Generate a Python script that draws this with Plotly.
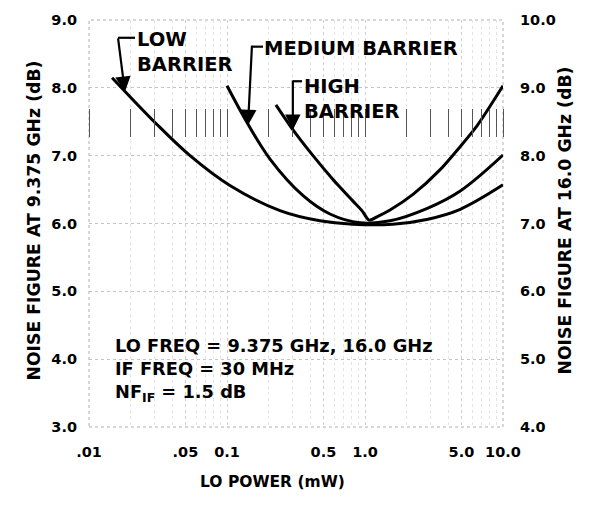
import numpy as np
import plotly.graph_objects as go

# ---- data ----
low_x = [0.0147, 0.0311, 0.054, 0.105, 0.242, 0.472, 0.819, 1.59, 2.8, 4.9, 10.0]
low_y = [8.15, 7.46, 7.0, 6.56, 6.19, 6.04, 5.99, 5.99, 6.06, 6.21, 6.57]

med_x = [0.1, 0.14, 0.205, 0.356, 0.557, 0.92, 1.518, 2.8, 4.9, 10.0]
med_y = [8.03, 7.485, 6.95, 6.41, 6.14, 6.01, 6.04, 6.22, 6.48, 7.01]

high_x = [0.226, 0.301, 0.42, 0.586, 0.819, 0.95, 1.07, 1.25, 1.518, 2.228, 3.49, 6.48, 10.0]
high_y = [7.75, 7.38, 7.0, 6.65, 6.33, 6.19, 6.05, 6.11, 6.2, 6.43, 6.79, 7.44, 8.03]

x_tickvals = [0.01, 0.05, 0.1, 0.5, 1.0, 5.0, 10.0]
x_ticktext = [".01", ".05", "0.1", "0.5", "1.0", "5.0", "10.0"]
left_ticks = [3, 4, 5, 6, 7, 8, 9]
right_ticks = [4, 5, 6, 7, 8, 9, 10]
minor_vals = [m * 10.0 ** d for d in (-2, -1, 0) for m in range(1, 10)] + [10.0]

FONT = "DejaVu Sans"
W, H = 594, 508
L, R, T, B = 89, 91, 15, 81
PW, PH = W - L - R, H - T - B


def px(xp):
    return (xp - L) / PW


def py(yp):
    return (H - B - yp) / PH


fig = go.Figure()
for xs, ys, nm, sm in [(low_x, low_y, "Low", 1.0), (med_x, med_y, "Medium", 1.0),
                       (high_x, high_y, "High", 0.6)]:
    fig.add_trace(go.Scatter(x=xs, y=ys, mode="lines", name=nm,
                             line=dict(color="black", width=3, shape="spline", smoothing=sm),
                             showlegend=False, hoverinfo="skip"))

# helper invisible traces so that secondary axes are drawn
fig.add_trace(go.Scatter(x=[1], y=[5], yaxis="y2", mode="markers",
                         marker=dict(opacity=0), showlegend=False, hoverinfo="skip"))
fig.add_trace(go.Scatter(x=[1], y=[5], xaxis="x3", mode="markers",
                         marker=dict(opacity=0), showlegend=False, hoverinfo="skip"))

tickfont = dict(family=FONT, size=14.5, color="black", weight="bold")

fig.update_layout(
    width=W, height=H,
    margin=dict(l=L, r=R, t=T, b=B),
    paper_bgcolor="white", plot_bgcolor="white",
    font=dict(family=FONT, color="black", weight="bold"),
    xaxis=dict(type="log", range=[-2, 1], tickvals=x_tickvals, ticktext=x_ticktext,
               tickfont=tickfont, ticks="", ticklabelstandoff=14,
               showgrid=True, gridcolor="#cfcfcf", griddash="dot", gridwidth=1,
               minor=dict(tickvals=minor_vals, showgrid=True, gridcolor="#e4e4e4",
                          griddash="dot", gridwidth=1),
               showline=False, zeroline=False),
    xaxis3=dict(type="log", range=[-2, 1], overlaying="x", anchor="free",
                position=py(104), side="bottom", showgrid=False,
                tickvals=minor_vals, ticks="outside", ticklen=28, tickwidth=1.3,
                tickcolor="#555", showticklabels=False, showline=False, zeroline=False),
    yaxis=dict(range=[3, 9], tickvals=left_ticks, ticktext=[f"{v:.1f}" for v in left_ticks],
               tickfont=tickfont, ticks="", ticklabelstandoff=11,
               showgrid=True, gridcolor="#c4c4c4", griddash="dot", gridwidth=1,
               showline=False, zeroline=False),
    yaxis2=dict(range=[4, 10], overlaying="y", side="right", tickvals=right_ticks,
                ticktext=[f"{v:.1f}" for v in right_ticks], tickfont=tickfont,
                ticks="", ticklabelstandoff=16, showgrid=False, showline=False,
                zeroline=False),
)

# dotted plot frame
fig.add_shape(type="rect", xref="paper", yref="paper", x0=0, y0=0, x1=1, y1=1,
              line=dict(color="#b0b0b0", width=1, dash="dot"), layer="below")

lab_font = dict(family=FONT, size=19.5, color="black", weight="bold")

# curve labels
fig.add_annotation(xref="paper", yref="paper", x=px(135), y=py(21), xanchor="left",
                   yanchor="top", align="left", text="LOW<br>BARRIER", showarrow=False,
                   font=lab_font)
fig.add_annotation(xref="paper", yref="paper", x=px(262), y=py(30), xanchor="left",
                   yanchor="top", align="left", text="MEDIUM BARRIER", showarrow=False,
                   font=lab_font)
fig.add_annotation(xref="paper", yref="paper", x=px(302), y=py(69), xanchor="left",
                   yanchor="top", align="left", text="HIGH<br>BARRIER", showarrow=False,
                   font=lab_font)

# bracket arrows (tip on the curve, tail at bracket corner)
arrows = [
    (np.log10(0.0182), 7.94, -7, -55, (118, 33), (135, 33)),
    (np.log10(0.142), 7.45, 4, -81, (252, 42), (263, 42)),
    (np.log10(0.30), 7.38, 0, -51, (293, 77), (302, 77)),
]
for ax_x, ax_y, dx, dy, c0, c1 in arrows:
    fig.add_annotation(x=ax_x, y=ax_y, xref="x", yref="y", ax=dx, ay=dy,
                       showarrow=True, arrowhead=2, arrowsize=1.4, arrowwidth=2.2,
                       arrowcolor="black", text="")
    fig.add_shape(type="line", xref="paper", yref="paper", x0=px(c0[0]), y0=py(c0[1]),
                  x1=px(c1[0]), y1=py(c1[1]), line=dict(color="black", width=2.2))

# info text
fig.add_annotation(xref="paper", yref="paper", x=px(113), y=py(332), xanchor="left",
                   yanchor="top", align="left", showarrow=False,
                   text="LO FREQ = 9.375 GHz, 16.0 GHz<br>IF FREQ = 30 MHz<br>NF<sub>IF</sub> = 1.5 dB",
                   font=dict(family=FONT, size=17.8, color="black", weight="bold"))

# axis titles
title_font = dict(family=FONT, size=17.3, color="black", weight="bold")
fig.add_annotation(xref="paper", yref="paper", x=px(22), y=py(218), textangle=-90,
                   text="NOISE FIGURE AT 9.375 GHz (dB)", showarrow=False, font=title_font)
fig.add_annotation(xref="paper", yref="paper", x=px(577), y=py(218), textangle=-90,
                   text="NOISE FIGURE AT 16.0 GHz (dB)", showarrow=False, font=title_font)
fig.add_annotation(xref="paper", yref="paper", x=px(272), y=py(494),
                   text="LO POWER (mW)", showarrow=False,
                   font=dict(family=FONT, size=15.5, color="black", weight="bold"))

fig.write_html("out.html", config={"displayModeBar": False},
               post_script="document.body.style.margin='0';")
